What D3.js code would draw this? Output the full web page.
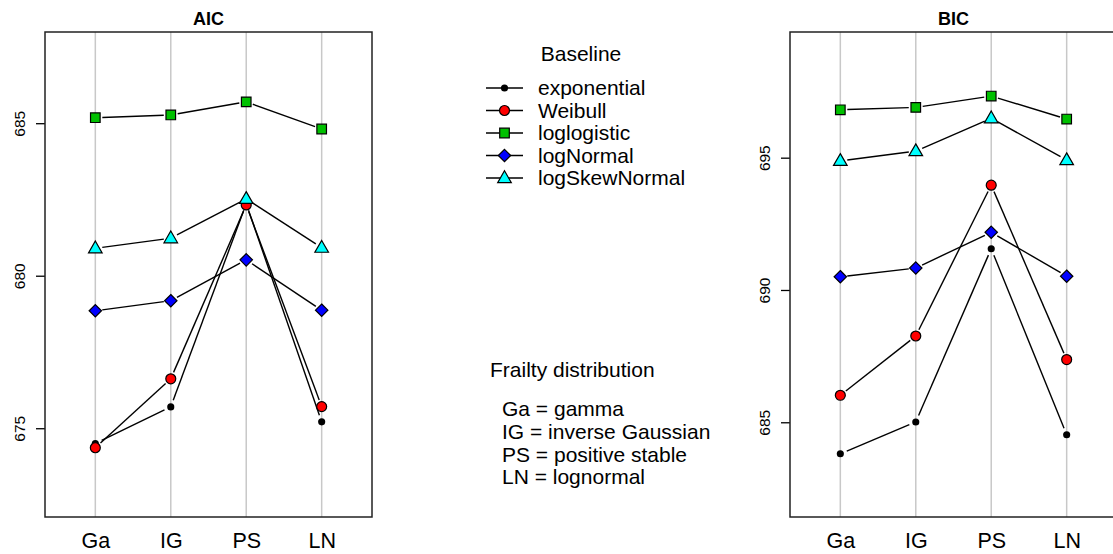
<!DOCTYPE html>
<html>
<head>
<meta charset="utf-8">
<script src="https://cdn.jsdelivr.net/npm/d3@7"></script>
<style>
  body { margin: 0; background: #fff; }
  svg { font-family: "Liberation Sans", Arial, sans-serif; }
</style>
</head>
<body>
<script>
// categories (frailty distributions)
const frailty = ["Ga", "IG", "PS", "LN"];

// baseline series
const baselines = ["exponential", "Weibull", "loglogistic", "logNormal", "logSkewNormal"];
const fills = ["#000000", "#ff0000", "#00c000", "#0000ff", "#00ffff"];
const shapes = ["dot", "circle", "square", "diamond", "triangle"];

// AIC values, one array per baseline
const aicExponential = [674.50, 675.70, 682.36, 675.21];
const aicWeibull = [674.36, 676.62, 682.32, 675.71];
const aicLoglogistic = [685.18, 685.27, 685.70, 684.81];
const aicLogNormal = [678.85, 679.18, 680.52, 678.87];
const aicLogSkewNormal = [680.90, 681.23, 682.52, 680.92];

// BIC values
const bicExponential = [683.81, 685.01, 691.56, 684.53];
const bicWeibull = [686.02, 688.26, 693.96, 687.37];
const bicLoglogistic = [696.81, 696.90, 697.33, 696.46];
const bicLogNormal = [690.50, 690.83, 692.18, 690.52];
const bicLogSkewNormal = [694.88, 695.25, 696.49, 694.91];

const aicTicks = [675, 680, 685];
const bicTicks = [685, 690, 695];

const frailtyNotes = ["Ga = gamma", "IG = inverse Gaussian", "PS = positive stable", "LN = lognormal"];

const width = 1113, height = 554;

const svg = d3.select("body").append("svg")
    .attr("width", width)
    .attr("height", height);

function symbolPath(shape) {
  if (shape == "dot") return d3.symbol(d3.symbolCircle, 40)();
  if (shape == "circle") return d3.symbol(d3.symbolCircle, 78)();
  if (shape == "square") return d3.symbol(d3.symbolSquare, 92)();
  if (shape == "diamond") return "M0,-6.2L6.2,0L0,6.2L-6.2,0Z";
  return "M0,-7.2L6.8,4.6L-6.8,4.6Z";
}

function drawPanel(opts) {
  const g = svg.append("g");
  const x = d3.scaleLinear().domain([0.333, 4.667]).range([opts.left, opts.left + 327]);
  const y = d3.scaleLinear().domain(opts.domain).range([517, 32]);

  // vertical grid lines
  g.selectAll(".grid")
    .data(frailty)
    .join("line")
    .attr("x1", (d, i) => x(i + 1))
    .attr("x2", (d, i) => x(i + 1))
    .attr("y1", 32)
    .attr("y2", 517)
    .attr("stroke", "#c8c8c8")
    .attr("stroke-width", 1.5);

  // y axis
  const yAxis = g.append("g")
    .attr("transform", `translate(${opts.left},0)`)
    .call(d3.axisLeft(y).tickValues(opts.ticks).tickSize(9).tickFormat(d3.format("d")));
  yAxis.select(".domain").remove();
  yAxis.selectAll(".tick line").attr("stroke", "#000").attr("stroke-width", 1.3);
  yAxis.selectAll(".tick text")
    .attr("transform", "rotate(-90)")
    .attr("x", 0)
    .attr("y", -20)
    .attr("dy", 0)
    .attr("text-anchor", "middle")
    .style("font-size", "15.5px")
    .attr("fill", "#000");

  // x labels
  const xAxis = g.append("g")
    .attr("transform", "translate(0,517)")
    .call(d3.axisBottom(x).tickValues([1, 2, 3, 4]).tickSize(0).tickFormat((d) => frailty[d - 1]));
  xAxis.select(".domain").remove();
  xAxis.selectAll(".tick text")
    .attr("y", 31)
    .attr("dy", 0)
    .style("font-size", "21.5px")
    .attr("fill", "#000");

  // series, type "b": lines with gaps around the points
  const gap = 7;
  opts.series.forEach((vals, s) => {
    const pts = vals.map((v, i) => [x(i + 1), y(v)]);
    for (let i = 0; i < pts.length - 1; i++) {
      const [x0, y0] = pts[i], [x1, y1] = pts[i + 1];
      const len = Math.hypot(x1 - x0, y1 - y0);
      if (len <= 2 * gap) continue;
      const ux = (x1 - x0) / len, uy = (y1 - y0) / len;
      g.append("line")
        .attr("x1", x0 + ux * gap).attr("y1", y0 + uy * gap)
        .attr("x2", x1 - ux * gap).attr("y2", y1 - uy * gap)
        .attr("stroke", "#000")
        .attr("stroke-width", 1.4);
    }
    g.selectAll(null)
      .data(pts)
      .join("path")
      .attr("d", symbolPath(shapes[s]))
      .attr("transform", (d) => `translate(${d[0]},${d[1]})`)
      .attr("fill", fills[s])
      .attr("stroke", "#000")
      .attr("stroke-width", shapes[s] == "dot" ? 0 : 1.2);
  });

  // box
  g.append("rect")
    .attr("x", opts.left)
    .attr("y", 32)
    .attr("width", 327)
    .attr("height", 485)
    .attr("fill", "none")
    .attr("stroke", "#222")
    .attr("stroke-width", 1.5);

  // title
  g.append("text")
    .attr("x", opts.left + 163.5)
    .attr("y", 25)
    .attr("text-anchor", "middle")
    .attr("font-weight", "bold")
    .style("font-size", "18px")
    .text(opts.title);
}

drawPanel({
  left: 45,
  title: "AIC",
  domain: [672.09, 687.99],
  ticks: aicTicks,
  series: [aicExponential, aicWeibull, aicLoglogistic, aicLogNormal, aicLogSkewNormal]
});

drawPanel({
  left: 790,
  title: "BIC",
  domain: [681.42, 699.75],
  ticks: bicTicks,
  series: [bicExponential, bicWeibull, bicLoglogistic, bicLogNormal, bicLogSkewNormal]
});

// legend: baseline
const legend = svg.append("g").style("font-size", "21px");
legend.append("text")
  .attr("x", 581)
  .attr("y", 61)
  .attr("text-anchor", "middle")
  .text("Baseline");

const rowY = d3.scalePoint().domain(baselines).range([88, 178]);
baselines.forEach((b, i) => {
  const yy = rowY(b);
  legend.append("line")
    .attr("x1", 486).attr("x2", 523)
    .attr("y1", yy).attr("y2", yy)
    .attr("stroke", "#000")
    .attr("stroke-width", 1.4);
  legend.append("path")
    .attr("d", symbolPath(shapes[i]))
    .attr("transform", `translate(504.5,${yy})`)
    .attr("fill", fills[i])
    .attr("stroke", "#000")
    .attr("stroke-width", shapes[i] == "dot" ? 0 : 1.2);
  legend.append("text")
    .attr("x", 538)
    .attr("y", yy)
    .attr("dy", "0.35em")
    .text(b);
});

// legend: frailty distribution
legend.append("text")
  .attr("x", 490)
  .attr("y", 377)
  .text("Frailty distribution");

const noteY = d3.scalePoint().domain(frailtyNotes).range([409, 477]);
frailtyNotes.forEach((t) => {
  legend.append("text")
    .attr("x", 502)
    .attr("y", noteY(t))
    .attr("dy", "0.35em")
    .text(t);
});
</script>
</body>
</html>
